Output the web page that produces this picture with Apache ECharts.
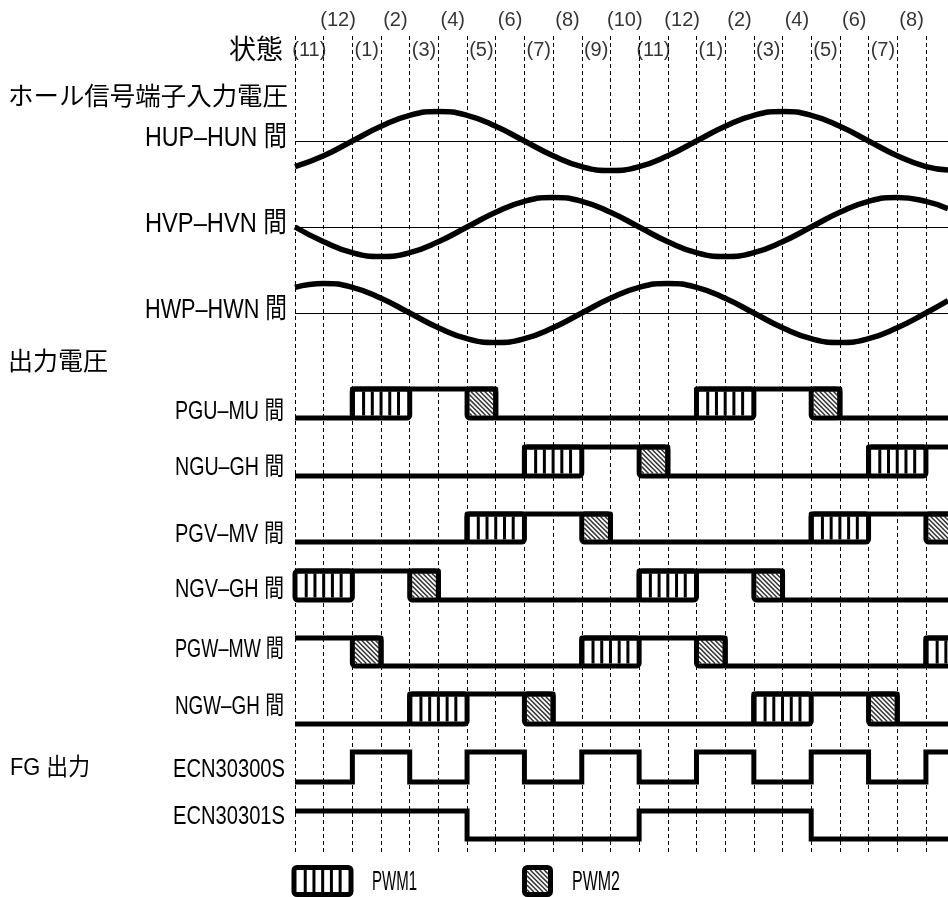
<!DOCTYPE html>
<html><head><meta charset="utf-8">
<script src="https://cdn.jsdelivr.net/npm/echarts@6/dist/echarts.min.js"></script>
<style>html,body{margin:0;padding:0;background:#fff}#c{width:948px;height:897px}</style>
</head><body><div id="c"></div>
<script>
// ---------------- data ----------------
const STATES = [11,12,1,2,3,4,5,6,7,8,9,10,11,12,1,2,3,4,5,6,7,8];
const X_MAX = 22.77;                       // right edge of the drawing, in state units
const HALL_X = [0,1,2,3,4,5,6,7,8,9,10,11,12,13,14,15,16,17,18,19,20,21,22,22.77];
const HUP_HUN = [-0.87,-0.5,0,0.5,0.87,1,0.87,0.5,0,-0.5,-0.87,-1,-0.87,-0.5,0,0.5,0.87,1,0.87,0.5,0,-0.5,-0.87,-0.98];
const HVP_HVN = [0,-0.5,-0.87,-1,-0.87,-0.5,0,0.5,0.87,1,0.87,0.5,0,-0.5,-0.87,-1,-0.87,-0.5,0,0.5,0.87,1,0.87,0.62];
const HWP_HWN = [0.87,1,0.87,0.5,0,-0.5,-0.87,-1,-0.87,-0.5,0,0.5,0.87,1,0.87,0.5,0,-0.5,-0.87,-1,-0.87,-0.5,0,0.42];
// per state interval: 0 = low, 1 = high, 2 = PWM1, 3 = PWM2
const PGU_MU = [0,0,2,2,1,1,3,0,0,0,0,0,0,0,2,2,1,1,3,0,0,0,0];
const NGU_GH = [0,0,0,0,0,0,0,0,2,2,1,1,3,0,0,0,0,0,0,0,2,2,1];
const PGV_MV = [0,0,0,0,0,0,2,2,1,1,3,0,0,0,0,0,0,0,2,2,1,1,3];
const NGV_GH = [2,2,1,1,3,0,0,0,0,0,0,0,2,2,1,1,3,0,0,0,0,0,0];
const PGW_MW = [1,1,3,0,0,0,0,0,0,0,2,2,1,1,3,0,0,0,0,0,0,0,2];
const NGW_GH = [0,0,0,0,2,2,1,1,3,0,0,0,0,0,0,0,2,2,1,1,3,0,0];
const ECN30300S = [0,0,1,1,0,0,1,1,0,0,1,1,0,0,1,1,0,0,1,1,0,0,1];
const ECN30301S = [1,1,1,1,1,1,0,0,0,0,0,0,1,1,1,1,1,1,0,0,0,0,0];
const HALL_LABELS = ['HUP–HUN 間','HVP–HVN 間','HWP–HWN 間'];
const OUT_LABELS = ['PGU–MU 間','NGU–GH 間','PGV–MV 間','NGV–GH 間','PGW–MW 間','NGW–GH 間'];
const FG_LABELS = ['ECN30300S','ECN30301S'];
const LEGEND_NAMES = ['PWM1','PWM2'];

// ---------------- layout ----------------
const LEFT = 295;
const HALL_CENTERS = [141, 227, 313];
const HALL_AMP = 29.5;
const OUT_LEVELS = [[389,418],[447,476],[514,542],[571,600],[638,666],[694,724]];
const FG_LEVELS = [[752,782],[811,839]];
const FONT = '"Liberation Sans","Noto Sans CJK JP",sans-serif';
const CJK = '"Noto Sans CJK JP",sans-serif';

const mctx = document.createElement('canvas').getContext('2d');
function measure(text, font) { mctx.font = font; return mctx.measureText(text).width; }

const grids = [], xAxes = [], yAxes = [], series = [], graphics = [];
function addGrid(top, height, ymin, ymax, extraX) {
  const i = grids.length;
  grids.push({left: LEFT, right: 0, top: top, height: height});
  xAxes.push(Object.assign({type:'value', gridIndex:i, min:0, max:X_MAX, show:false}, extraX || {}));
  yAxes.push({type:'value', gridIndex:i, min:ymin, max:ymax, show:false});
  return i;
}

// background dashed state boundaries
addGrid(36, 816, 0, 1, {
  show: true, interval: 1,
  axisLine:{show:false}, axisTick:{show:false}, axisLabel:{show:false},
  splitLine:{show:true, showMinLine:true, showMaxLine:false, lineStyle:{color:'#000', width:1, type:[4,3]}}
});

// state header
const gh = addGrid(20, 30, 0, 1);
series.push({
  type:'scatter', xAxisIndex:gh, yAxisIndex:gh, symbolSize:1, silent:true,
  itemStyle:{color:'rgba(0,0,0,0)'},
  data: STATES.map((s,k)=>[k+0.5, s%2===0 ? 1 : 0, s]),
  label:{show:true, position:'inside', formatter:p=>'('+p.value[2]+')',
    fontFamily:'Liberation Sans', fontSize:20, color:'#000'}
});

// hall sine rows
[HUP_HUN, HVP_HVN, HWP_HWN].forEach((arr, r) => {
  const g = addGrid(HALL_CENTERS[r]-HALL_AMP, HALL_AMP*2, -1, 1);
  series.push({
    type:'line', xAxisIndex:g, yAxisIndex:g, smooth:true, showSymbol:false, clip:false, silent:true,
    data: HALL_X.map((x,i)=>[x, arr[i]]),
    lineStyle:{color:'#000', width:5.5},
    markLine:{silent:true, symbol:'none', label:{show:false}, animation:false,
      lineStyle:{color:'#000', width:1, type:'solid'}, data:[{yAxis:0}]}
  });
});

function pwmChildren(code, x1, y1, x2, y2, unitPx) {
  const ch = [];
  const L = x1 + 2.5, R = x2 - 2.5, T = y1 + 2.5, B = y2 - 2.5;
  if (code === 2) {
    const pitch = (2*unitPx - 5) / 6;
    for (let i = 1; L + pitch*i < R - 1; i++) {
      const cx = L + pitch*i;
      ch.push({type:'rect', shape:{x:cx-1.5, y:T, width:3, height:B-T}, style:{fill:'#000'}});
    }
  } else {
    const step = 4.6;
    for (let c = L - B + step/2; c < R - T; c += step) {
      const xa = Math.max(L, T + c), xb = Math.min(R, B + c);
      if (xb - xa > 0.5) ch.push({type:'line', shape:{x1:xa, y1:xa-c, x2:xb, y2:xb-c}, style:{stroke:'#333', lineWidth:1.5}});
    }
  }
  ch.push({type:'rect', shape:{x:x1, y:y1, width:x2-x1, height:y2-y1, r:3}, style:{fill:'none', stroke:'#000', lineWidth:5}});
  return ch;
}
function runs(codes) {
  const out = [];
  let k = 0;
  while (k < codes.length) {
    const c = codes[k];
    if (c >= 2) { let e = k; while (e < codes.length && codes[e] === c) e++; out.push([k, e, c]); k = e; }
    else k++;
  }
  return out;
}
function digitalRow(codes, hi, lo, join, withBoxes) {
  const h = lo - hi;
  const g = addGrid(hi - h*0.5, h*2, -0.5, 1.5);
  const pts = codes.map((c,k)=>[k, c>0 ? 1 : 0]);
  pts.push([X_MAX, codes[codes.length-1]>0 ? 1 : 0]);
  series.push({type:'line', xAxisIndex:g, yAxisIndex:g, step:'end', showSymbol:false, clip:false, silent:true,
    data: pts, lineStyle:{color:'#000', width:5, join: join, cap:'butt'}});
  if (withBoxes) {
    series.push({type:'custom', xAxisIndex:g, yAxisIndex:g, clip:false, silent:true,
      data: runs(codes), encode:{x:[0,1]},
      renderItem:(params, api)=>{
        const p1 = api.coord([api.value(0), 1]);
        const p2 = api.coord([api.value(1), 0]);
        const unit = api.size([1,0])[0];
        return {type:'group', children: pwmChildren(api.value(2), p1[0], p1[1], p2[0], p2[1], unit)};
      }});
  }
}
[PGU_MU, NGU_GH, PGV_MV, NGV_GH, PGW_MW, NGW_GH].forEach((codes, r) =>
  digitalRow(codes, OUT_LEVELS[r][0], OUT_LEVELS[r][1], 'round', true));
[ECN30300S, ECN30301S].forEach((codes, r) =>
  digitalRow(codes, FG_LEVELS[r][0], FG_LEVELS[r][1], 'miter', false));

// ---------------- text labels ----------------
function text(str, x, y, size, align, targetW, family) {
  const font = size + 'px ' + (family || FONT);
  const sx = targetW ? targetW / measure(str, font) : 1;
  graphics.push({type:'text', x:x, y:y, scaleX:sx, silent:true,
    style:{text:str, font:font, fill:'#000', textAlign:align, textVerticalAlign:'middle', align:align, verticalAlign:'middle'}});
}
text('状態', 283, 49, 27, 'right', 0, CJK);
text('ホール信号端子入力電圧', 8, 95, 25, 'left', 280, CJK);
text('出力電圧', 8, 360, 25, 'left', 100, CJK);
text('FG 出力', 10, 768, 24, 'left', 80);
HALL_LABELS.forEach((s,r)=>text(s, 287, HALL_CENTERS[r]-3, 28, 'right', 142));
const OUT_Y = [412, 468, 535, 590, 650, 707];
OUT_LABELS.forEach((s,r)=>text(s, 284, OUT_Y[r], 25, 'right', 109));
const FG_Y = [770, 817];
FG_LABELS.forEach((s,r)=>text(s, 285, FG_Y[r], 25, 'right', 112));

// legend
graphics.push({type:'group', silent:true, children: pwmChildren(2, 294, 867.5, 351, 894.5, 28.68)});
graphics.push({type:'group', silent:true, children: pwmChildren(3, 524.5, 867.5, 550.5, 894.5, 28.68)});
text(LEGEND_NAMES[0], 372, 882, 28, 'left', 45);
text(LEGEND_NAMES[1], 572, 882, 28, 'left', 48);

const chart = echarts.init(document.getElementById('c'), null, {renderer:'canvas', width:948, height:897});
chart.setOption({
  animation:false,
  backgroundColor:'#fff',
  grid:grids, xAxis:xAxes, yAxis:yAxes, series:series, graphic:graphics
});
</script></body></html>
